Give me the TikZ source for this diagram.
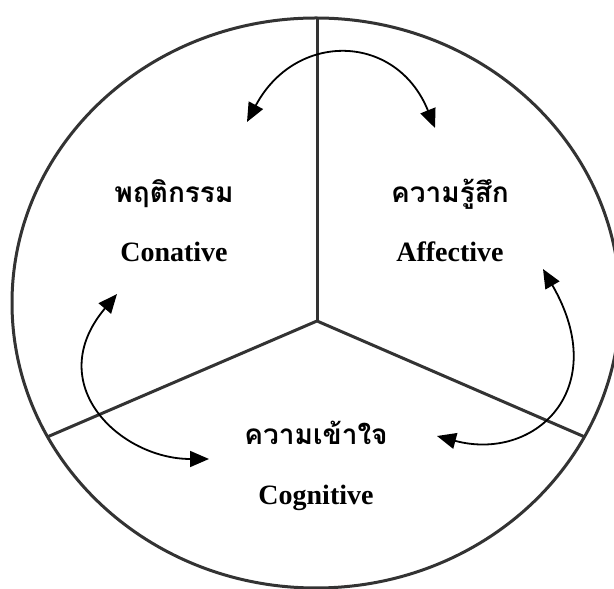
\documentclass[tikz,border=0pt]{standalone}
\usepackage{fontspec}
\setmainfont{Liberation Serif}
\newfontfamily\thaifont[Script=Thai]{Loma}
\usetikzlibrary{arrows.meta, positioning, calc}

\begin{document}
\begin{tikzpicture}[x=1pt, y=1pt,
  thai/.style={font=\thaifont\bfseries\fontsize{28}{32}\selectfont, anchor=base},
  eng/.style={font=\bfseries\fontsize{28}{32}\selectfont},
  rim/.style={line width=3pt, draw=black!80},
  link/.style={{Triangle[length=19pt,width=16pt]}-{Triangle[length=19pt,width=16pt]}, line width=1.8pt}]

\useasboundingbox (0,0) rectangle (614,589);
\clip (0,0) rectangle (614,589);

% circle and its three parts
\coordinate (mid) at (316,286);
\coordinate (hub) at (317,268);
\coordinate (top) at (317,571);
\coordinate (lft) at ($(mid)+(208:304pt and 285pt)$);
\coordinate (rgt) at ($(mid)+(332:304pt and 285pt)$);

\draw[rim] (mid) ellipse [x radius=304pt, y radius=285pt];
\draw[rim] (top) -- (hub);
\draw[rim] (lft) -- (hub) -- (rgt);

% labels
\node[thai] (conthai) at (174,386) {พฤติกรรม};
\node[eng, below=59pt of conthai.base, anchor=base] (coneng) {Conative};
\node[thai] (affthai) at (450,386) {ความรู้สึก};
\node[eng, below=59pt of affthai.base, anchor=base] (affeng) {Affective};
\node[thai] (cogthai) at (316,144) {ความเข้าใจ};
\node[eng, below=60pt of cogthai.base, anchor=base] (cogeng) {Cognitive};

% arrows between the parts
\coordinate (a1) at (247,467);
\coordinate (a2) at (435,461);
\coordinate (b1) at (117,295);
\coordinate (b2) at (209,130);
\coordinate (c1) at (543,320);
\coordinate (c2) at (437,153);

\draw[link] (a1) to[out=62, in=112, looseness=1.4] (a2);
\draw[link] (b1) to[out=230, in=180, out looseness=1.6, in looseness=1.2] (b2);
\draw[link] (c1) to[out=-60, in=-15, out looseness=1.8, in looseness=1.3] (c2);
\end{tikzpicture}
\end{document}
